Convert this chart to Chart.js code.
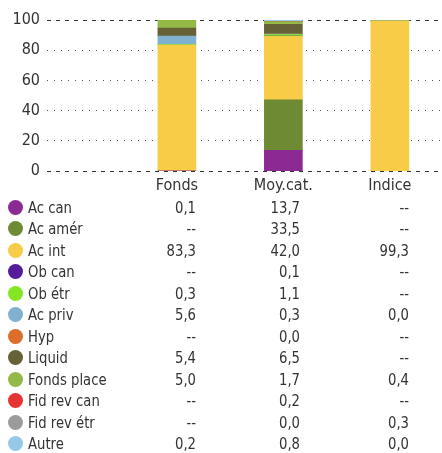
<!DOCTYPE html>
<html lang="fr">
<head>
    <meta charset="UTF-8">
    <title>Répartition de l'actif</title>
    <script src="https://cdn.jsdelivr.net/npm/chart.js"></script>
    <style>
        body {
            margin: 0;
            background: #ffffff;
            font-family: 'DejaVu Sans Condensed', 'Liberation Sans Narrow', 'Roboto', sans-serif;
            color: #333333;
        }
        .wrap {
            position: relative;
            width: 442px;
            height: 453px;
            overflow: hidden;
        }
        #chartBox {
            position: absolute;
            left: 0;
            top: 0;
            width: 442px;
            height: 200px;
        }
        .row {
            position: absolute;
            left: 0;
            width: 442px;
            height: 21px;
            font-size: 16.5px;
            line-height: 21px;
        }
        .dot {
            position: absolute;
            left: 8px;
            top: 3px;
            width: 15px;
            height: 15px;
            border-radius: 50%;
        }
        .name {
            position: absolute;
            left: 28px;
            white-space: nowrap;
            transform: scaleX(0.89);
            transform-origin: left center;
        }
        .val {
            position: absolute;
            text-align: right;
            width: 80px;
            transform: scaleX(0.89);
            transform-origin: right center;
        }
    </style>
</head>
<body>
    <div class="wrap">
        <div id="chartBox"><canvas id="assetChart"></canvas></div>
        <div id="table"></div>
    </div>
    <script>
        // categories (x axis), placed at x = 1, 2, 3
        const columns = ['Fonds', 'Moy.cat.', 'Indice'];
        const yTicks = [0, 20, 40, 60, 80, 100];
        const edgeTicks = [0, 100];
        const innerTicks = [20, 40, 60, 80];

        // asset classes, bottom to top in the stack
        const classes = ['Ac can', 'Ac amér', 'Ac int', 'Ob can', 'Ob étr', 'Ac priv', 'Hyp',
            'Liquid', 'Fonds place', 'Fid rev can', 'Fid rev étr', 'Autre'];
        const colors = ['#8c2a94', '#6e8a33', '#f8cc46', '#561d9b', '#84e622', '#80b1d1', '#dd6d2b',
            '#666137', '#93b947', '#e63434', '#9b9b9b', '#95c9ea'];

        // null = "--"
        const fonds = [0.1, null, 83.3, null, 0.3, 5.6, null, 5.4, 5.0, null, null, 0.2];
        const moyCat = [13.7, 33.5, 42.0, 0.1, 1.1, 0.3, 0.0, 6.5, 1.7, 0.2, 0.0, 0.8];
        const indice = [null, null, 99.3, null, null, 0.0, null, null, 0.4, null, 0.3, 0.0];

        const fontFamily = "'DejaVu Sans Condensed', 'Liberation Sans Narrow', 'Roboto', sans-serif";

        const datasets = classes.map((name, i) => ({
            label: name,
            data: [fonds[i], moyCat[i], indice[i]].map((v, j) => ({ x: j + 1, y: v })),
            backgroundColor: colors[i],
            borderWidth: 0,
            barThickness: 38
        }));

        // extra axis that only draws grid lines across the plot
        const lineAxis = (values, dash, color) => ({
            position: 'left',
            min: 0,
            max: 100,
            border: { display: false, dash: dash },
            afterBuildTicks: scale => {
                scale.ticks = values.map(v => ({ value: v }));
            },
            afterFit: scale => { scale.width = 0; },
            grid: { drawTicks: false, color: color, lineWidth: 1 },
            ticks: { display: false }
        });

        new Chart(document.getElementById('assetChart'), {
            type: 'bar',
            data: { datasets: datasets },
            options: {
                responsive: true,
                maintainAspectRatio: false,
                animation: false,
                layout: { padding: { top: 20, right: 0, left: 0, bottom: 0 } },
                plugins: {
                    legend: { display: false },
                    tooltip: { enabled: false }
                },
                scales: {
                    x: {
                        type: 'linear',
                        stacked: true,
                        offset: false,
                        min: -0.22,
                        max: 3.49,
                        grid: { display: false, drawTicks: false },
                        border: { display: false },
                        afterBuildTicks: scale => {
                            scale.ticks = columns.map((c, j) => ({ value: j + 1 }));
                        },
                        ticks: {
                            padding: 5,
                            color: '#333333',
                            font: { family: fontFamily, size: 16 },
                            callback: v => columns[v - 1]
                        },
                        afterFit: scale => { scale.height = 29; }
                    },
                    // tick labels only
                    y: {
                        stacked: true,
                        min: 0,
                        max: 100,
                        border: { display: false },
                        afterBuildTicks: scale => {
                            scale.ticks = yTicks.map(v => ({ value: v }));
                        },
                        afterFit: scale => { scale.width = 47; },
                        grid: { display: false, drawTicks: false },
                        ticks: {
                            padding: 7,
                            color: '#333333',
                            font: { family: fontFamily, size: 16 }
                        }
                    },
                    yDots: lineAxis(innerTicks, [1, 6], '#555555'),
                    yEdge: lineAxis(edgeTicks, [4, 5], '#333333')
                }
            }
        });

        // legend / value table under the chart
        const fmt = v => v === null ? '--' : v.toFixed(1).replace('.', ',');
        const table = document.getElementById('table');
        const valueRight = [196, 300, 409];
        classes.forEach((name, i) => {
            const row = document.createElement('div');
            row.className = 'row';
            row.style.top = (197 + i * 21.45) + 'px';
            let html = '<span class="dot" style="background:' + colors[i] + '"></span>' +
                '<span class="name">' + name + '</span>';
            [fonds[i], moyCat[i], indice[i]].forEach((v, j) => {
                html += '<span class="val" style="left:' + (valueRight[j] - 80) + 'px">' + fmt(v) + '</span>';
            });
            row.innerHTML = html;
            table.appendChild(row);
        });
    </script>
</body>
</html>
